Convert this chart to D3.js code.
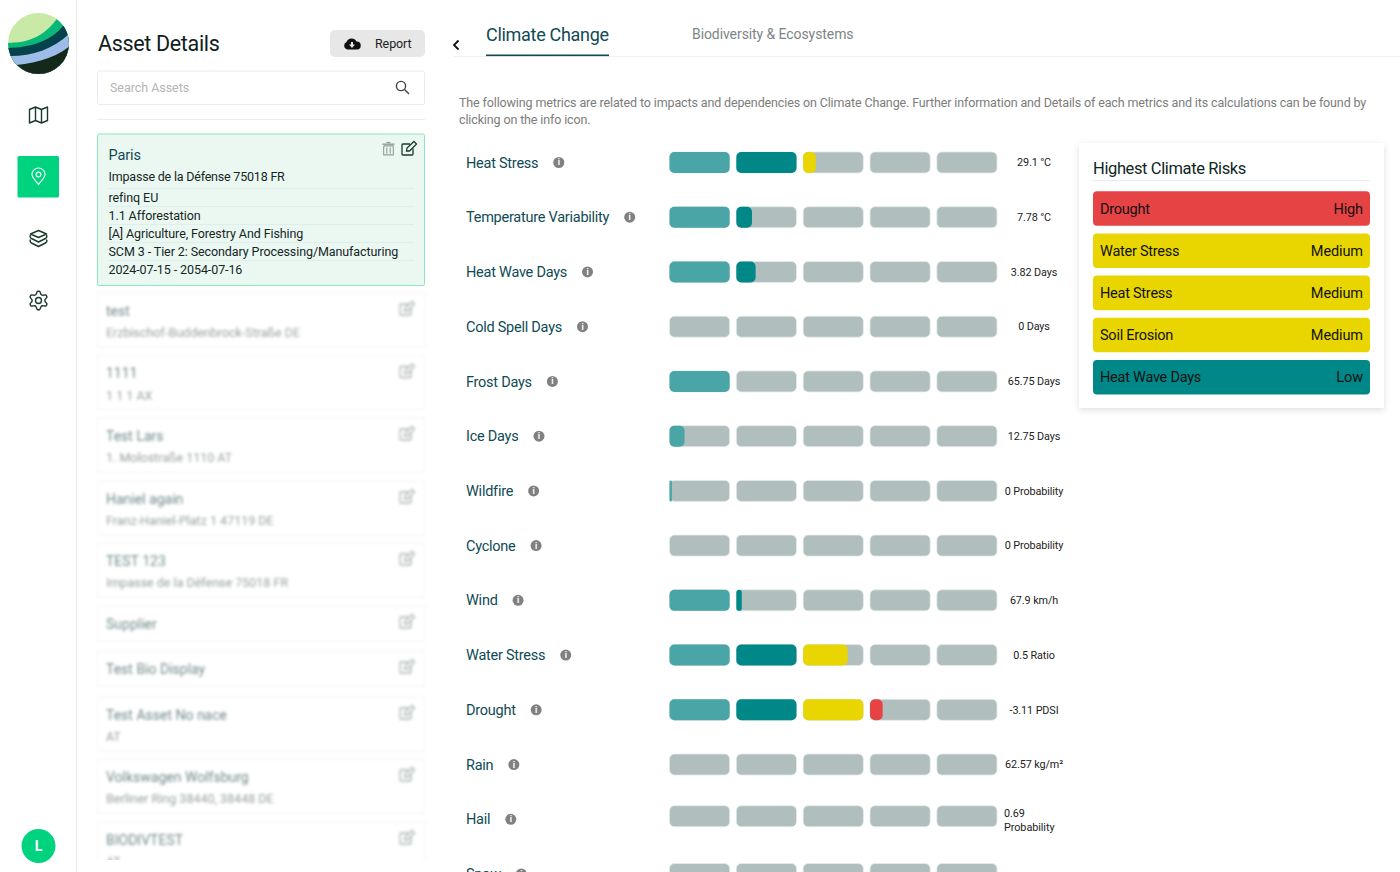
<!DOCTYPE html>
<html>
<head>
<meta charset="utf-8">
<script src="https://cdn.jsdelivr.net/npm/d3@7"></script>
<style>
html, body { margin: 0; padding: 0; background: #fff; overflow: hidden; }
svg { display: block; }
text { font-family: Roboto, sans-serif; }
</style>
</head>
<body>
<div id="chart"></div>
<script>
var metrics = ['Heat Stress', 'Temperature Variability', 'Heat Wave Days', 'Cold Spell Days', 'Frost Days', 'Ice Days', 'Wildfire', 'Cyclone', 'Wind', 'Water Stress', 'Drought', 'Rain', 'Hail', 'Snow'];
// score: whole segments filled + part of the next one
var scores = [2.21, 1.26, 1.32, 0, 1, 0.25, 0.04, 0, 1.09, 2.74, 3.21, 0, 0, 0];
var valueLabels = ['29.1 °C', '7.78 °C', '3.82 Days', '0 Days', '65.75 Days', '12.75 Days', '0 Probability', '0 Probability', '67.9 km/h', '0.5 Ratio', '-3.11 PDSI', '62.57 kg/m²', '0.69|Probability', '0 kg/m²'];
var segments = [0, 1, 2, 3, 4];
var segmentColors = ['#4aa6a6', '#008787', '#e9d600', '#e64345', '#e64345'];

var riskNames = ['Drought', 'Water Stress', 'Heat Stress', 'Soil Erosion', 'Heat Wave Days'];
var riskLevels = ['High', 'Medium', 'Medium', 'Medium', 'Low'];
var levelColors = { High: '#e64345', Medium: '#e9d600', Low: '#008787' };

var selectedLines = ['refinq EU', '1.1 Afforestation', '[A] Agriculture, Forestry And Fishing', 'SCM 3 - Tier 2: Secondary Processing/Manufacturing', '2024-07-15 - 2054-07-16'];
var assetNames = ['test', '1111', 'Test Lars', 'Haniel again', 'TEST 123', 'Supplier', 'Test Bio Display', 'Test Asset No nace', 'Volkswagen Wolfsburg', 'BIODIVTEST'];
var assetAddresses = ['Erzbischof-Buddenbrock-Straße DE', '1 1 1 AX', '1. Molostraße 1110 AT', 'Franz-Haniel-Platz 1 47119 DE', 'Impasse de la Défense 75018 FR', '', '', 'AT', 'Berliner Ring 38440, 38448 DE', 'AT'];
var assetTops = [293, 355.5, 418, 481, 543, 606, 651, 697, 759, 822];

var svg = d3.select('#chart').append('svg').attr('width', 1400).attr('height', 872);
var defs = svg.append('defs');
defs.append('filter').attr('id', 'blur').attr('x', '-5%').attr('y', '-10%').attr('width', '110%').attr('height', '120%')
    .append('feGaussianBlur').attr('stdDeviation', 1.7);
var shadow = defs.append('filter').attr('id', 'shadow').attr('x', '-10%').attr('y', '-10%').attr('width', '120%').attr('height', '120%');
shadow.append('feDropShadow').attr('dx', 0).attr('dy', 2).attr('stdDeviation', 3).attr('flood-color', '#000').attr('flood-opacity', 0.13);
defs.append('clipPath').attr('id', 'logoClip').append('circle').attr('cx', 38.5).attr('cy', 43.5).attr('r', 30.5);
defs.append('clipPath').attr('id', 'listClip').append('rect').attr('x', 90).attr('y', 288).attr('width', 345).attr('height', 572);

function label(parent, str, x, y, size, color, anchor, weight, spacing) {
    return parent.append('text').attr('x', x).attr('y', y).attr('dy', '0.35em')
        .attr('font-size', size).attr('fill', color)
        .attr('letter-spacing', spacing || 0)
        .attr('text-anchor', anchor || 'start').attr('font-weight', weight || 400).text(str);
}

function editIcon(parent, x, y, color, width) {
    var g = parent.append('g').attr('transform', 'translate(' + x + ',' + y + ')')
        .attr('fill', 'none').attr('stroke', color).attr('stroke-width', width);
    g.append('path').attr('d', 'M1,-4.5H-6a1,1 0 0 0 -1,1V5.5a1,1 0 0 0 1,1H3a1,1 0 0 0 1,-1V0');
    g.append('path').attr('d', 'M-2.5,2.5L-2,-0.5L5,-7L7.5,-4.5L0.5,2.5Z');
}

// ---- sidebar
var side = svg.append('g');
side.append('line').attr('x1', 76.5).attr('x2', 76.5).attr('y1', 0).attr('y2', 872).attr('stroke', '#ececec');

var logo = side.append('g').attr('clip-path', 'url(#logoClip)');
logo.append('rect').attr('x', 0).attr('y', 0).attr('width', 76).attr('height', 80).attr('fill', '#c8eaa6');
logo.append('path').attr('fill', '#08b878').attr('d', 'M6,43 C26,43 44,38 58,17 L76,17 L76,80 L6,80Z');
logo.append('path').attr('fill', '#06424c').attr('d', 'M6,48 C28,48 50,42 63,26 L76,26 L76,80 L6,80Z');
logo.append('path').attr('fill', '#9dbde8').attr('d', 'M6,56 C30,57 52,50 69,34 L76,34 L76,80 L6,80Z');
logo.append('path').attr('fill', '#14291a').attr('d', 'M6,66 C30,64 54,60 71,45 L76,45 L76,80 L6,80Z');

var iconStroke = '#1c3a2c';
var mapIcon = side.append('g').attr('transform', 'translate(38.5,115)').attr('fill', 'none').attr('stroke', iconStroke).attr('stroke-width', 1.4).attr('stroke-linejoin', 'round');
mapIcon.append('path').attr('d', 'M-9,-5.5 L-3,-8 L3,-5.5 L9,-8 V5.5 L3,8 L-3,5.5 L-9,8Z');
mapIcon.append('path').attr('d', 'M-3,-8V5.5M3,-5.5V8');

side.append('rect').attr('x', 17.5).attr('y', 156).attr('width', 41.5).attr('height', 41.5).attr('rx', 1.5).attr('fill', '#00d37f');
var pin = side.append('g').attr('transform', 'translate(38.5,176.5)').attr('fill', 'none').attr('stroke', '#e8fff4').attr('stroke-width', 1.2);
pin.append('path').attr('d', 'M0,8 C-3,4 -6.5,1 -6.5,-2 A6.5,6.5 0 0 1 6.5,-2 C6.5,1 3,4 0,8Z');
pin.append('circle').attr('cy', -2).attr('r', 2.4);

var layers = side.append('g').attr('transform', 'translate(38.5,238.5)').attr('fill', 'none').attr('stroke', iconStroke).attr('stroke-width', 1.4).attr('stroke-linejoin', 'round');
layers.append('path').attr('d', 'M0,-8 L8,-4.5 L0,-1 L-8,-4.5Z');
layers.append('path').attr('d', 'M-8,-3.5 C-9,-1.5 -8,-0.5 -7,0 L0,3.5 L7,0 C8,-0.5 9,-1.5 8,-3.5');
layers.append('path').attr('d', 'M-8,1 C-9,3 -8,4 -7,4.5 L0,8 L7,4.5 C8,4 9,3 8,1');

var gear = side.append('g').attr('transform', 'translate(38.5,300.5)').attr('fill', 'none').attr('stroke', iconStroke).attr('stroke-width', 1.4).attr('stroke-linejoin', 'round');
gear.append('circle').attr('r', 3);
var gearLine = d3.lineRadial().curve(d3.curveCardinalClosed.tension(0.7));
gear.append('path').attr('d', gearLine(d3.range(24).map(function (i) {
    return [(i - 0.5) * Math.PI / 12, i % 4 < 2 ? 9.2 : 6.6];
})));

side.append('circle').attr('cx', 38.5).attr('cy', 846).attr('r', 17).attr('fill', '#00d37f');
label(side, 'L', 38.5, 846, 14, '#fff', 'middle', 700);

// ---- asset panel
var panel = svg.append('g');
label(panel, 'Asset Details', 98, 43.5, 21.5, '#10201c', 'start', 400, -0.33);
panel.append('rect').attr('x', 330).attr('y', 30).attr('width', 95).attr('height', 27).attr('rx', 5).attr('fill', '#e7e7e7');
panel.append('path').attr('fill', '#111').attr('transform', 'translate(352,44)')
    .attr('d', 'M-5,5.5 A4,4 0 0 1 -5.5,-2 A5.5,5.5 0 0 1 4.5,-2.5 A4,4 0 0 1 5,5.5Z');
panel.append('path').attr('fill', '#e7e7e7').attr('transform', 'translate(352,44)').attr('d', 'M-1,-2H1V0.5H3L0,4L-3,0.5H-1Z');
label(panel, 'Report', 375, 44, 12.5, '#222', 'start', 400, -0.1);

panel.append('rect').attr('x', 97.5).attr('y', 71).attr('width', 327).attr('height', 33.5).attr('rx', 1.5).attr('fill', '#fff').attr('stroke', '#ececec');
label(panel, 'Search Assets', 110, 88, 12.5, '#b4b4b4', 'start', 400, -0.05);
var lens = panel.append('g').attr('fill', 'none').attr('stroke', '#444').attr('stroke-width', 1.4);
lens.append('circle').attr('cx', 401).attr('cy', 86).attr('r', 4.6);
lens.append('line').attr('x1', 404.5).attr('y1', 89.5).attr('x2', 409).attr('y2', 94);
panel.append('line').attr('x1', 97).attr('x2', 425).attr('y1', 119.5).attr('y2', 119.5).attr('stroke', '#e8eded');

panel.append('rect').attr('x', 97.5).attr('y', 134).attr('width', 327).attr('height', 151.5).attr('rx', 1.5).attr('fill', '#ebf8f2').attr('stroke', '#8de6c0');
label(panel, 'Paris', 108.5, 154.5, 14.5, '#0f4a55', 'start', 400, -0.1);
label(panel, 'Impasse de la Défense 75018 FR', 108.5, 177, 12.5, '#16261f', 'start', 400, -0.2);
selectedLines.forEach(function (d, i) {
    panel.append('line').attr('x1', 108).attr('x2', 414).attr('y1', 188.5 + i * 18).attr('y2', 188.5 + i * 18).attr('stroke', '#deeeec');
    label(panel, d, 108.5, 198 + i * 18, 12.5, '#16261f', 'start', 400, -0.09);
});
var trash = panel.append('g').attr('transform', 'translate(388.5,148.5)').attr('fill', '#8f9f98');
trash.append('rect').attr('x', -6).attr('y', -5).attr('width', 12).attr('height', 1.4);
trash.append('rect').attr('x', -2).attr('y', -6.6).attr('width', 4).attr('height', 1.4);
trash.append('path').attr('fill', 'none').attr('stroke', '#8f9f98').attr('stroke-width', 1.1)
    .attr('d', 'M-4.8,-2.6V6.4H4.8V-2.6H-4.8M-1.7,-1V5M1.7,-1V5');
editIcon(panel, 409, 148.5, '#1c3a2c', 1.3);

var list = panel.append('g').attr('clip-path', 'url(#listClip)');
var assets = list.selectAll('g.asset').data(assetNames).enter().append('g').attr('class', 'asset')
    .attr('transform', function (d, i) { return 'translate(0,' + assetTops[i] + ')'; })
    .attr('filter', 'url(#blur)');
assets.append('rect').attr('x', 97.5).attr('y', 0).attr('width', 327)
    .attr('height', function (d, i) { return assetAddresses[i] ? 54 : 35; })
    .attr('fill', '#fff').attr('stroke', '#f4f4f4');
assets.append('text').attr('x', 106).attr('y', 18).attr('dy', '0.35em').attr('font-size', 14).attr('fill', '#4a7070').text(function (d) { return d; });
assets.append('text').attr('x', 106).attr('y', 40).attr('dy', '0.35em').attr('font-size', 12.5).attr('fill', '#84958f')
    .text(function (d, i) { return assetAddresses[i]; });
assets.each(function () { editIcon(d3.select(this), 407, 15.5, '#9aaba6', 1.3); });

// ---- tabs and intro
var head = svg.append('g');
head.append('path').attr('d', 'M458.5,40.5L454,45L458.5,49.5').attr('fill', 'none').attr('stroke', '#111').attr('stroke-width', 1.8);
head.append('line').attr('x1', 454).attr('x2', 1400).attr('y1', 56.5).attr('y2', 56.5).attr('stroke', '#f0f0f0');
label(head, 'Climate Change', 486, 35, 18, '#0f4a55', 'start', 400, -0.3);
head.append('rect').attr('x', 486).attr('y', 54.5).attr('width', 123).attr('height', 1.6).attr('fill', '#0f4a55');
label(head, 'Biodiversity & Ecosystems', 692, 34.5, 14, '#7b8686', 'start', 400, -0.08);
label(head, 'The following metrics are related to impacts and dependencies on Climate Change. Further information and Details of each metrics and its calculations can be found by', 459, 103, 12.5, '#7c7c7c', 'start', 400, -0.13);
label(head, 'clicking on the info icon.', 459, 120, 12.5, '#7c7c7c', 'start', 400, -0.13);

// ---- metric rows
var x = d3.scaleBand().domain(segments).range([669.5, 997]).paddingInner(0.1);
var fillWidth = d3.scaleLinear().domain([0, 1]).range([0, x.bandwidth()]);
var y = d3.scalePoint().domain(metrics).range([162.5, 874]);
var barH = 21;

var rows = svg.append('g').selectAll('g.row').data(metrics).enter().append('g').attr('class', 'row')
    .attr('transform', function (d) { return 'translate(0,' + y(d) + ')'; });

rows.append('text').attr('x', 466).attr('dy', '0.35em').attr('font-size', 14.5).attr('letter-spacing', -0.25).attr('fill', '#0f4a55').text(function (d) { return d; });
rows.each(function () {
    var row = d3.select(this);
    var end = 466 + row.select('text').node().getComputedTextLength() + 20.5;
    row.append('circle').attr('cx', end).attr('r', 5.5).attr('fill', '#808080');
    row.append('text').attr('x', end).attr('dy', '0.35em').attr('text-anchor', 'middle').attr('font-size', 8.5).attr('font-weight', 700).attr('fill', '#fff').text('i');
});

var bars = rows.append('g').attr('transform', function (d) {
    return 'translate(0,' + (d === 'Hail' ? -3 : 0) + ')';
});
bars.each(function (d, i) {
    var score = scores[i];
    var cells = d3.select(this).selectAll('g').data(segments).enter().append('g');
    cells.append('rect').attr('x', function (s) { return x(s); }).attr('y', -barH / 2)
        .attr('width', x.bandwidth()).attr('height', barH).attr('rx', 5)
        .attr('fill', '#b0bebe').attr('stroke', '#e4eaea').attr('stroke-width', 0.8);
    cells.append('rect').attr('x', function (s) { return x(s); }).attr('y', -barH / 2)
        .attr('width', function (s) { return fillWidth(Math.max(0, Math.min(1, score - s))); })
        .attr('height', barH)
        .attr('rx', function (s) { return Math.min(5, fillWidth(Math.max(0, Math.min(1, score - s))) / 2); })
        .attr('fill', function (s) { return segmentColors[s]; });
});

rows.each(function (d, i) {
    var row = d3.select(this);
    var parts = valueLabels[i].split('|');
    if (parts.length > 1) {
        label(row, parts[0], 1004, -6.5, 10.8, '#222', 'start', 400, -0.05);
        label(row, parts[1], 1004, 7.5, 10.8, '#222', 'start', 400, -0.05);
    } else {
        label(row, parts[0], 1034, d === 'Snow' ? 2 : 0, 10.8, '#222', 'middle', 400, -0.1);
    }
});

// ---- risk card
var card = svg.append('g');
card.append('rect').attr('x', 1079).attr('y', 143).attr('width', 305).attr('height', 265).attr('rx', 2.5).attr('fill', '#fff').attr('filter', 'url(#shadow)');
label(card, 'Highest Climate Risks', 1093, 168.5, 16.5, '#10261f', 'start', 400, -0.38);
card.append('line').attr('x1', 1093).attr('x2', 1370).attr('y1', 180.5).attr('y2', 180.5).attr('stroke', '#e2eef2');

var riskY = d3.scaleBand().domain(riskNames).range([191.3, 394.5]).paddingInner(0.18);
var pills = card.selectAll('g.risk').data(riskNames).enter().append('g').attr('class', 'risk')
    .attr('transform', function (d) { return 'translate(0,' + riskY(d) + ')'; });
pills.append('rect').attr('x', 1093).attr('width', 277).attr('height', riskY.bandwidth()).attr('rx', 4)
    .attr('fill', function (d, i) { return levelColors[riskLevels[i]]; });
pills.append('text').attr('x', 1100).attr('y', riskY.bandwidth() / 2).attr('dy', '0.35em').attr('font-size', 14.5).attr('letter-spacing', -0.25).attr('fill', '#111').text(function (d) { return d; });
pills.append('text').attr('x', 1363).attr('y', riskY.bandwidth() / 2).attr('dy', '0.35em').attr('text-anchor', 'end').attr('font-size', 14.5).attr('letter-spacing', -0.1).attr('fill', '#111').text(function (d, i) { return riskLevels[i]; });
</script>
</body>
</html>
